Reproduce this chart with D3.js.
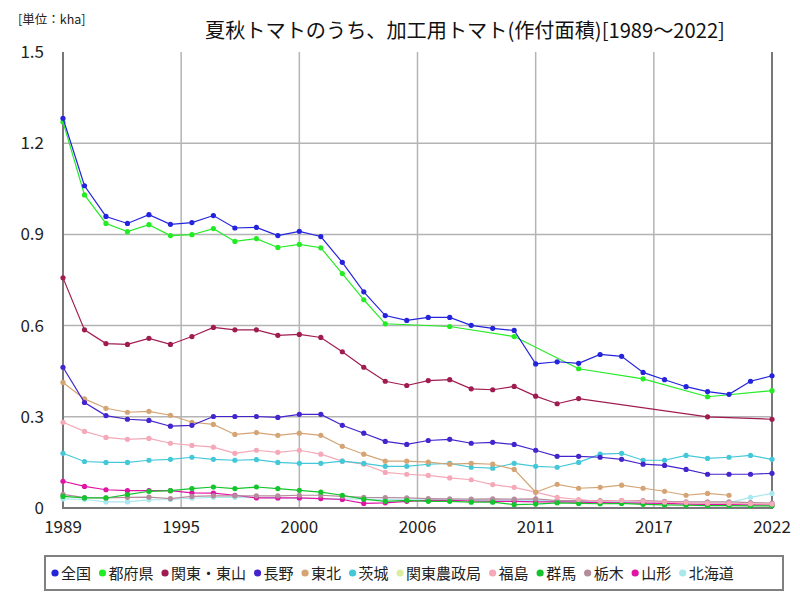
<!DOCTYPE html>
<html>
<head>
<meta charset="utf-8">
<script src="https://cdn.jsdelivr.net/npm/d3@7"></script>
<style>
  body { margin: 0; background: #fff; }
</style>
</head>
<body>
<div id="container"></div>
<script>
const width = 800;
const height = 600;

const years = [1989, 1990, 1991, 1992, 1993, 1994, 1995, 1996, 1997, 1998, 1999, 2000,
  2001, 2002, 2003, 2004, 2005, 2006, 2007, 2008, 2009, 2010, 2011, 2012,
  2013, 2014, 2015, 2016, 2017, 2018, 2019, 2020, 2021, 2022];

const xTicks = [1989, 1994.5, 2000, 2005.5, 2011, 2016.5, 2022];
const xTickLabels = ['1989', '1995', '2000', '2006', '2011', '2017', '2022'];
const yTicks = [0, 0.3, 0.6, 0.9, 1.2, 1.5];
const yTickLabels = ['0', '0.3', '0.6', '0.9', '1.2', '1.5'];

const names = ['全国', '都府県', '関東・東山', '長野', '東北', '茨城', '関東農政局', '福島', '群馬', '栃木', '山形', '北海道'];
const colors = ['#2424dc', '#24ec24', '#a01c50', '#4424cc', '#d4a474', '#44c8d8', '#dcecA0', '#f4a8b8', '#14c42c', '#b48c9c', '#e014a4', '#a8e8ee'];

const zenkoku = [1.282, 1.060, 0.959, 0.936, 0.965, 0.933, 0.939, 0.962, 0.921, 0.923, 0.896, 0.910,
  0.893, 0.808, 0.711, 0.633, 0.617, 0.627, 0.627, 0.601, 0.591, 0.584, 0.474, 0.481,
  0.476, 0.505, 0.499, 0.446, 0.422, 0.399, 0.383, 0.374, 0.417, 0.435];
const todofuken = [1.270, 1.030, 0.936, 0.909, 0.932, 0.896, 0.899, 0.919, 0.877, 0.886, 0.857, 0.867,
  0.856, 0.771, 0.685, 0.606, null, null, 0.597, null, null, 0.564, null, null,
  0.458, null, null, 0.425, null, null, 0.366, null, null, 0.386];
const kantoTosan = [0.757, 0.586, 0.541, 0.538, 0.558, 0.538, 0.564, 0.594, 0.586, 0.586, 0.568, 0.571,
  0.561, 0.514, 0.463, 0.417, 0.403, 0.419, 0.422, 0.392, 0.389, 0.400, 0.368, 0.343,
  0.360, null, null, null, null, null, 0.300, null, null, 0.292];
const nagano = [0.463, 0.347, 0.304, 0.292, 0.288, 0.269, 0.272, 0.301, 0.301, 0.301, 0.298, 0.308,
  0.308, 0.272, 0.246, 0.219, 0.209, 0.222, 0.226, 0.213, 0.216, 0.209, 0.190, 0.170,
  0.170, 0.167, 0.160, 0.144, 0.140, 0.127, 0.111, 0.111, 0.111, 0.114];
const tohoku = [0.413, 0.359, 0.328, 0.315, 0.318, 0.305, 0.282, 0.275, 0.242, 0.248, 0.239, 0.246,
  0.239, 0.203, 0.177, 0.154, 0.154, 0.151, 0.144, 0.147, 0.144, 0.127, 0.052, 0.078,
  0.065, 0.068, 0.075, 0.065, 0.055, 0.042, 0.048, 0.042, null, null];
const ibaraki = [0.180, 0.153, 0.150, 0.150, 0.157, 0.160, 0.167, 0.160, 0.157, 0.159, 0.150, 0.147,
  0.147, 0.154, 0.147, 0.137, 0.137, 0.144, 0.147, 0.134, 0.131, 0.147, 0.137, 0.134,
  0.150, 0.177, 0.180, 0.157, 0.157, 0.173, 0.163, 0.167, 0.173, 0.160];
const kantoNoseikyoku = [null, null, null, null, null, null, null, null, null, null, null, null,
  null, null, null, null, null, null, null, null, null, null, null, null,
  null, null, null, null, null, null, null, null, null, null];
const fukushima = [0.282, 0.252, 0.232, 0.226, 0.229, 0.213, 0.206, 0.200, 0.180, 0.190, 0.183, 0.190,
  0.177, 0.154, 0.144, 0.117, 0.111, 0.107, 0.099, 0.093, 0.077, 0.068, 0.052, 0.035,
  0.028, 0.022, 0.025, 0.022, 0.019, 0.018, 0.016, 0.015, 0.014, 0.013];
const gunma = [0.038, 0.033, 0.033, 0.044, 0.055, 0.057, 0.064, 0.069, 0.064, 0.069, 0.064, 0.058,
  0.052, 0.042, 0.029, 0.022, 0.025, 0.022, 0.022, 0.019, 0.019, 0.011, 0.013, 0.017,
  0.015, 0.014, 0.015, 0.012, 0.010, 0.009, 0.008, 0.008, 0.007, 0.007];
const tochigi = [0.045, 0.034, 0.033, 0.035, 0.036, 0.031, 0.038, 0.040, 0.040, 0.040, 0.040, 0.042,
  0.042, 0.038, 0.035, 0.034, 0.033, 0.031, 0.030, 0.029, 0.030, 0.029, 0.030, 0.024,
  0.024, 0.024, 0.024, 0.024, 0.022, 0.020, 0.020, 0.020, 0.018, 0.016];
const yamagata = [0.088, 0.071, 0.060, 0.057, 0.057, 0.057, 0.050, 0.049, 0.042, 0.033, 0.033, 0.033,
  0.031, 0.028, 0.015, 0.017, 0.022, 0.025, 0.025, 0.023, 0.022, 0.022, 0.020, 0.020,
  0.019, 0.018, 0.017, 0.016, 0.015, 0.013, 0.012, 0.011, 0.010, 0.010];
const hokkaido = [0.030, 0.028, 0.020, 0.020, 0.027, 0.028, 0.032, 0.035, 0.035, 0.034, 0.033, 0.032,
  0.031, 0.030, 0.029, 0.028, 0.027, 0.027, 0.027, 0.027, 0.026, 0.026, 0.025, 0.022,
  0.021, 0.020, 0.020, 0.020, 0.019, 0.018, 0.018, 0.017, 0.035, 0.048];

const seriesValues = [zenkoku, todofuken, kantoTosan, nagano, tohoku, ibaraki, kantoNoseikyoku,
  fukushima, gunma, tochigi, yamagata, hokkaido];

const margin = { left: 63, right: 28, top: 52, bottom: 92 };

const xScale = d3.scaleLinear().domain([1989, 2022]).range([margin.left, width - margin.right]);
const yScale = d3.scaleLinear().domain([0, 1.5]).range([height - margin.bottom, margin.top]);

const svg = d3.select('#container')
  .append('svg')
  .attr('width', width)
  .attr('height', height)
  .attr('font-family', '"Noto Sans CJK JP", "Liberation Sans", sans-serif');

// grid
svg.append('g')
  .selectAll('line')
  .data(yTicks.slice(1, -1))
  .join('line')
  .attr('x1', margin.left).attr('x2', width - margin.right)
  .attr('y1', d => yScale(d)).attr('y2', d => yScale(d))
  .attr('stroke', '#b4b4b4').attr('stroke-width', 1.5);

svg.append('g')
  .selectAll('line')
  .data(xTicks.slice(1, -1))
  .join('line')
  .attr('x1', d => xScale(d)).attr('x2', d => xScale(d))
  .attr('y1', margin.top).attr('y2', height - margin.bottom)
  .attr('stroke', '#b4b4b4').attr('stroke-width', 1.5);

// frame
svg.append('path')
  .attr('d', `M${margin.left},${margin.top}V${height - margin.bottom}H${width - margin.right}V${margin.top}`)
  .attr('fill', 'none')
  .attr('stroke', '#787878')
  .attr('stroke-width', 2);

// tick labels
svg.append('g')
  .selectAll('text')
  .data(yTicks)
  .join('text')
  .attr('x', 44)
  .attr('y', d => yScale(d) + 6)
  .attr('text-anchor', 'end')
  .attr('font-size', 17)
  .attr('fill', '#222')
  .text((d, i) => yTickLabels[i]);

svg.append('g')
  .selectAll('text')
  .data(xTicks)
  .join('text')
  .attr('x', d => xScale(d))
  .attr('y', height - margin.bottom + 25)
  .attr('text-anchor', 'middle')
  .attr('font-size', 17)
  .attr('fill', '#222')
  .text((d, i) => xTickLabels[i]);

// series
const line = d3.line().x(d => xScale(d.year)).y(d => yScale(d.value));

const seriesData = names.map((name, i) => ({
  name,
  color: colors[i],
  points: years.map((year, j) => ({ year, value: seriesValues[i][j] })).filter(d => d.value != null)
}));

const seriesG = svg.append('g')
  .selectAll('g')
  .data(seriesData.slice().reverse())
  .join('g');

seriesG.append('path')
  .attr('d', d => d.points.length ? line(d.points) : null)
  .attr('fill', 'none')
  .attr('stroke', d => d.color)
  .attr('stroke-width', 1.2);

seriesG.selectAll('circle')
  .data(d => d.points.map(p => ({ ...p, color: d.color })))
  .join('circle')
  .attr('cx', d => xScale(d.year))
  .attr('cy', d => yScale(d.value))
  .attr('r', 2.6)
  .attr('fill', d => d.color);

// title
svg.append('text')
  .attr('x', 18).attr('y', 24)
  .attr('font-size', 12.5)
  .attr('fill', '#222')
  .text('[単位：kha]');

const title = svg.append('text')
  .attr('x', 465).attr('y', 38)
  .attr('text-anchor', 'middle')
  .attr('font-size', 25)
  .attr('fill', '#111')
  .text('夏秋トマトのうち、加工用トマト(作付面積)[1989～2022]');
const tw = title.node().getComputedTextLength();
if (tw > 520) title.attr('font-size', 25 * 520 / tw);

// legend
const legend = svg.append('g');
legend.append('rect')
  .attr('x', 45).attr('y', 556)
  .attr('width', 738).attr('height', 34)
  .attr('fill', '#fff')
  .attr('stroke', '#808080')
  .attr('stroke-width', 2);

let lx = 52;
seriesData.forEach(s => {
  legend.append('circle')
    .attr('cx', lx + 3).attr('cy', 573)
    .attr('r', 3.6)
    .attr('fill', s.color);
  const t = legend.append('text')
    .attr('x', lx + 9).attr('y', 578.5)
    .attr('font-size', 15)
    .attr('fill', '#222')
    .text(s.name);
  lx += 9 + t.node().getComputedTextLength() + 8.5;
});
</script>
</body>
</html>
